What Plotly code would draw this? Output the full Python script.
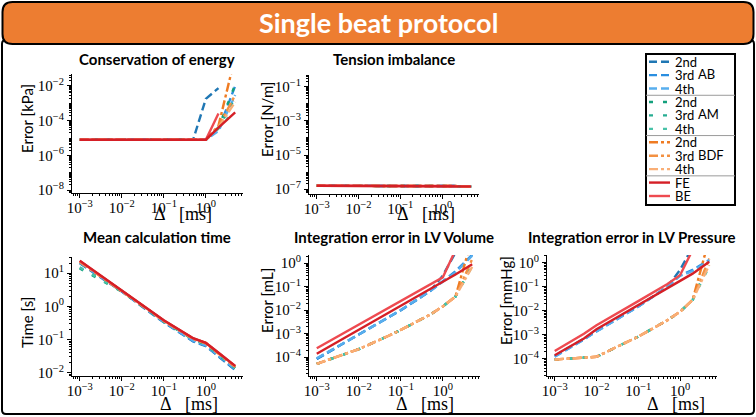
import math
import plotly.graph_objects as go

W, H = 756, 417

# ---------------- data ----------------
DT = [0.001, 0.005, 0.01, 0.05, 0.1, 0.5, 1, 2, 5]  # time step [ms]

# Conservation of energy [kPa]
E_AB2 = [8e-6, 8e-6, 8e-6, 8e-6, 8e-6, 8e-6, 1.8e-3, 7.5e-3, None]
E_AB3 = [8e-6, 8e-6, 8e-6, 8e-6, 8e-6, 8e-6, 8e-6, 3e-5, 1e-2]
E_AB4 = [8e-6, 8e-6, 8e-6, 8e-6, 8e-6, 8e-6, 8e-6, 2.5e-5, 3e-3]
E_AM2 = [8e-6, 8e-6, 8e-6, 8e-6, 8e-6, 8e-6, 8e-6, 4e-5, 1.2e-2]
E_AM3 = [8e-6, 8e-6, 8e-6, 8e-6, 8e-6, 8e-6, 8e-6, 4e-5, 2e-3]
E_AM4 = [8e-6, 8e-6, 8e-6, 8e-6, 8e-6, 8e-6, 8e-6, 3.5e-5, 4e-4]
E_BDF2 = [8e-6, 8e-6, 8e-6, 8e-6, 8e-6, 8e-6, 8e-6, 5e-5, 0.5]
E_BDF3 = [8e-6, 8e-6, 8e-6, 8e-6, 8e-6, 8e-6, 8e-6, 4.5e-5, 3e-3]
E_BDF4 = [8e-6, 8e-6, 8e-6, 8e-6, 8e-6, 8e-6, 8e-6, 4e-5, 1.2e-3]
E_FE = [8e-6, 8e-6, 8e-6, 8e-6, 8e-6, 8e-6, 8e-6, 4e-5, 3e-4]
E_BE = [8e-6, 8e-6, 8e-6, 8e-6, 8e-6, 8e-6, 8e-6, 2.6e-4, None]

# Tension imbalance [N/m]
T_AB2 = [1.55e-7, 1.55e-7, 1.55e-7, 1.55e-7, 1.55e-7, 1.55e-7, 1.54e-7, 1.5e-7, None]
T_AB3 = [1.55e-7, 1.55e-7, 1.55e-7, 1.55e-7, 1.55e-7, 1.55e-7, 1.54e-7, 1.5e-7, 1.4e-7]
T_AB4 = [1.55e-7, 1.55e-7, 1.55e-7, 1.55e-7, 1.55e-7, 1.55e-7, 1.54e-7, 1.5e-7, 1.4e-7]
T_AM2 = [1.55e-7, 1.55e-7, 1.55e-7, 1.55e-7, 1.55e-7, 1.55e-7, 1.54e-7, 1.5e-7, 1.4e-7]
T_AM3 = [1.55e-7, 1.55e-7, 1.55e-7, 1.55e-7, 1.55e-7, 1.55e-7, 1.54e-7, 1.5e-7, 1.4e-7]
T_AM4 = [1.55e-7, 1.55e-7, 1.55e-7, 1.55e-7, 1.55e-7, 1.55e-7, 1.54e-7, 1.5e-7, 1.4e-7]
T_BDF2 = [1.55e-7, 1.55e-7, 1.55e-7, 1.55e-7, 1.55e-7, 1.55e-7, 1.54e-7, 1.5e-7, 1.4e-7]
T_BDF3 = [1.55e-7, 1.55e-7, 1.55e-7, 1.55e-7, 1.55e-7, 1.55e-7, 1.54e-7, 1.5e-7, 1.4e-7]
T_BDF4 = [1.55e-7, 1.55e-7, 1.55e-7, 1.55e-7, 1.55e-7, 1.55e-7, 1.54e-7, 1.5e-7, 1.4e-7]
T_FE = [1.55e-7, 1.55e-7, 1.55e-7, 1.55e-7, 1.55e-7, 1.56e-7, 1.55e-7, 1.52e-7, 1.42e-7]
T_BE = [1.55e-7, 1.55e-7, 1.55e-7, 1.55e-7, 1.55e-7, 1.55e-7, 1.54e-7, 1.5e-7, None]

# Mean calculation time [s]
C_AB2 = [20, 5.0, 2.8, 0.62, 0.33, 0.088, 0.063, 0.031, 0.012]
C_AB3 = [21, 5.2, 2.85, 0.64, 0.34, 0.09, 0.065, 0.032, 0.0125]
C_AB4 = [21, 5.3, 2.9, 0.65, 0.345, 0.092, 0.067, 0.033, 0.013]
C_AM2 = [14, 4.6, 2.8, 0.66, 0.35, 0.1, 0.072, 0.035, 0.014]
C_AM3 = [14.5, 4.7, 2.85, 0.67, 0.355, 0.1, 0.073, 0.036, 0.014]
C_AM4 = [15, 4.8, 2.9, 0.68, 0.36, 0.102, 0.074, 0.036, 0.0145]
C_BDF2 = [22, 5.4, 2.9, 0.68, 0.36, 0.105, 0.077, 0.038, 0.015]
C_BDF3 = [22, 5.5, 2.95, 0.69, 0.365, 0.106, 0.078, 0.038, 0.015]
C_BDF4 = [23, 5.5, 2.95, 0.69, 0.37, 0.107, 0.078, 0.039, 0.0155]
C_FE = [24, 5.6, 3.0, 0.7, 0.38, 0.11, 0.08, 0.04, 0.016]
C_BE = [23.5, 5.55, 2.98, 0.7, 0.378, 0.109, 0.079, 0.04, 0.0158]

# Integration error in LV volume [mL]
V_AB2 = [8.5e-5, 4.4e-4, 9e-4, 4.8e-3, 0.01, 0.065, 0.3, 2.8, None]
V_AB3 = [8.5e-5, 4.4e-4, 9e-4, 4.8e-3, 0.01, 0.065, 0.17, 0.45, 2.3]
V_AB4 = [9e-5, 4.5e-4, 9.2e-4, 4.9e-3, 0.0102, 0.066, 0.16, 0.4, 2.1]
V_AM2 = [5.2e-5, 1.5e-4, 2.2e-4, 8e-4, 1.45e-3, 6.5e-3, 0.0145, 0.038, 0.8]
V_AM3 = [5.2e-5, 1.5e-4, 2.2e-4, 8e-4, 1.45e-3, 6.5e-3, 0.0145, 0.038, 0.9]
V_AM4 = [5.2e-5, 1.5e-4, 2.2e-4, 8e-4, 1.45e-3, 6.5e-3, 0.0145, 0.038, 0.75]
V_BDF2 = [5.2e-5, 1.5e-4, 2.2e-4, 8e-4, 1.45e-3, 6.5e-3, 0.0145, 0.038, 12]
V_BDF3 = [5.2e-5, 1.5e-4, 2.2e-4, 8e-4, 1.45e-3, 6.5e-3, 0.0145, 0.038, 1.5]
V_BDF4 = [5.2e-5, 1.5e-4, 2.2e-4, 8e-4, 1.45e-3, 6.5e-3, 0.0145, 0.038, 0.7]
V_FE = [1.4e-4, 7.1e-4, 1.47e-3, 7.5e-3, 0.0154, 0.079, 0.162, 0.33, 0.9]
V_BE = [2.4e-4, 1.2e-3, 2.4e-3, 0.012, 0.024, 0.12, 0.25, 3.6, None]

# Integration error in LV pressure [mmHg]
P_AB2 = [1.3e-4, 6.5e-4, 1.4e-3, 7.5e-3, 0.015, 0.1, 0.5, 4.5, None]
P_AB3 = [1.25e-4, 6.3e-4, 1.4e-3, 7.3e-3, 0.015, 0.1, 0.3, 0.5, 1.3]
P_AB4 = [1.2e-4, 6.2e-4, 1.35e-3, 7.2e-3, 0.0148, 0.1, 0.28, 0.45, 1.2]
P_AM2 = [9.3e-5, 1.1e-4, 1.2e-4, 4.7e-4, 8.3e-4, 4e-3, 9e-3, 0.028, 0.9]
P_AM3 = [9.3e-5, 1.1e-4, 1.2e-4, 4.7e-4, 8.3e-4, 4e-3, 9e-3, 0.028, 1.0]
P_AM4 = [9.3e-5, 1.1e-4, 1.2e-4, 4.7e-4, 8.3e-4, 4e-3, 9e-3, 0.028, 0.7]
P_BDF2 = [9.3e-5, 1.1e-4, 1.2e-4, 4.7e-4, 8.3e-4, 4e-3, 9e-3, 0.028, 10]
P_BDF3 = [9.3e-5, 1.1e-4, 1.2e-4, 4.7e-4, 8.3e-4, 4e-3, 9e-3, 0.028, 1.5]
P_BDF4 = [9.3e-5, 1.1e-4, 1.2e-4, 4.7e-4, 8.3e-4, 4e-3, 9e-3, 0.028, 0.8]
P_FE = [1.4e-4, 7e-4, 1.7e-3, 8.5e-3, 0.017, 0.085, 0.17, 0.35, 1.1]
P_BE = [2.1e-4, 1.1e-3, 2.5e-3, 0.012, 0.025, 0.13, 0.3, 3.4, None]

THRESHOLD = 0.1  # reference line in LV volume / pressure panels

METHODS = ["AB2", "AB3", "AB4", "AM2", "AM3", "AM4", "BDF2", "BDF3", "BDF4", "FE", "BE"]
LEGEND_LABELS = ["2nd", "3rd", "4th", "2nd", "3rd", "4th", "2nd", "3rd", "4th", "FE", "BE"]
GROUP_LABELS = ["AB", "AM", "BDF"]
DRAW_ORDER = [0, 1, 2, 3, 4, 5, 6, 7, 8, 10, 9]  # BE drawn below FE

PANEL_TITLES = ["Conservation of energy", "Tension imbalance", "Mean calculation time",
                "Integration error in LV Volume", "Integration error in LV Pressure"]
Y_TITLES = ["Error [kPa]", "Error [N/m]", "Time [s]", "Error [mL]", "Error [mmHg]"]
X_TITLE = "Δ\u00a0\u00a0\u00a0[ms]"
MAIN_TITLE = "Single beat protocol"

PANELS = [
    [E_AB2, E_AB3, E_AB4, E_AM2, E_AM3, E_AM4, E_BDF2, E_BDF3, E_BDF4, E_FE, E_BE],
    [T_AB2, T_AB3, T_AB4, T_AM2, T_AM3, T_AM4, T_BDF2, T_BDF3, T_BDF4, T_FE, T_BE],
    [C_AB2, C_AB3, C_AB4, C_AM2, C_AM3, C_AM4, C_BDF2, C_BDF3, C_BDF4, C_FE, C_BE],
    [V_AB2, V_AB3, V_AB4, V_AM2, V_AM3, V_AM4, V_BDF2, V_BDF3, V_BDF4, V_FE, V_BE],
    [P_AB2, P_AB3, P_AB4, P_AM2, P_AM3, P_AM4, P_BDF2, P_BDF3, P_BDF4, P_FE, P_BE],
]

X_TICKS = [1e-3, 1e-2, 1e-1, 1e0]
Y_TICKS = [
    [1e-8, 1e-6, 1e-4, 1e-2],
    [1e-7, 1e-5, 1e-3, 1e-1],
    [1e-2, 1e-1, 1e0, 1e1],
    [1e-4, 1e-3, 1e-2, 1e-1, 1e0],
    [1e-4, 1e-3, 1e-2, 1e-1, 1e0],
]

# ---------------- styles / layout ----------------
COLORS = {
    "AB2": "#1f77b4", "AB3": "#2a8ee0", "AB4": "#58aeee",
    "AM2": "#13a07c", "AM3": "#27ad92", "AM4": "#48c2a8",
    "BDF2": "#ef7b22", "BDF3": "#f39142", "BDF4": "#f9ae76",
    "FE": "#d51f26", "BE": "#ee4a50",
}
DASH_AB = "8px,4px"
DASH_AM = "4px,10px"
DASH_BDF = "9px,3px,3px,3px"
DASHES = {
    "AB2": DASH_AB, "AB3": DASH_AB, "AB4": DASH_AB,
    "AM2": DASH_AM, "AM3": DASH_AM, "AM4": DASH_AM,
    "BDF2": DASH_BDF, "BDF3": DASH_BDF, "BDF4": DASH_BDF,
    "FE": "solid", "BE": "solid",
}
LW = 2.4

# plot areas in pixels: (left, right, top, bottom)
BOXES = [
    (72, 243, 74, 193),
    (309, 479, 75, 194),
    (72, 243, 257, 376),
    (309, 480, 255, 376),
    (547, 717, 255, 376),
]
X_RANGE = [-3.185, 0.885]
Y_RANGES = [[-8.17, -1.31], [-7.29, -0.3], [-2.1, 1.49], [-4.8, 0.35], [-4.72, 0.32]]
TITLE_POS = [(157, 59), (394, 59), (157, 237), (394, 237), (632, 237)]
YTITLE_POS = [(27, 119), (267, 120), (27, 323), (267, 301), (506, 301)]
XTITLE_POS = [(152, 214), (395, 214), (158, 404), (394, 404), (645, 404)]

SANS = "Lato"
SERIF = "Liberation Serif"


def px(x):
    return x / W


def py(y):
    return 1 - y / H


def sup_label(v):
    e = int(round(math.log10(v)))
    s = str(e).replace("-", "\u2212")
    return f"10<sup>{s}</sup>"


fig = go.Figure()
layout = dict(
    width=W, height=H, margin=dict(l=0, r=0, t=0, b=0, autoexpand=False),
    paper_bgcolor="white", plot_bgcolor="white", showlegend=False,
)

minor_vals = []
for e in range(-10, 3):
    for m in range(2, 10):
        minor_vals.append(m * 10 ** e)

annotations = []
shapes = []


def rounded_rect(x0, y0, x1, y1, r):
    X = px
    Y = py
    return (f"M {X(x0 + r)},{Y(y0)} L {X(x1 - r)},{Y(y0)} Q {X(x1)},{Y(y0)} {X(x1)},{Y(y0 + r)} "
            f"L {X(x1)},{Y(y1 - r)} Q {X(x1)},{Y(y1)} {X(x1 - r)},{Y(y1)} "
            f"L {X(x0 + r)},{Y(y1)} Q {X(x0)},{Y(y1)} {X(x0)},{Y(y1 - r)} "
            f"L {X(x0)},{Y(y0 + r)} Q {X(x0)},{Y(y0)} {X(x0 + r)},{Y(y0)} Z")


shapes.append(dict(type="path", xref="paper", yref="paper", layer="below",
                   path=rounded_rect(2, 40, 754, 414, 4),
                   fillcolor="white", line=dict(color="black", width=2)))
shapes.append(dict(type="path", xref="paper", yref="paper", layer="above",
                   path=rounded_rect(2.5, 2, 753.5, 44, 10),
                   fillcolor="#ED7D31", line=dict(color="black", width=2)))
annotations.append(dict(x=px(378), y=py(23), xref="paper", yref="paper", showarrow=False,
                        text=f"<b>{MAIN_TITLE}</b>", xanchor="center", yanchor="middle",
                        font=dict(family=SANS, size=27, color="white")))

for i, data in enumerate(PANELS):
    k = "" if i == 0 else str(i + 1)
    l, r, t, b = BOXES[i]
    common = dict(type="log", automargin=False,
                  showline=True, linecolor="black", linewidth=1, mirror=False,
                  showgrid=False, zeroline=False, ticks="outside", ticklen=4, tickwidth=1,
                  tickcolor="black", tickmode="array",
                  tickfont=dict(family=SERIF, size=15, color="black"),
                  minor=dict(ticks="outside", ticklen=2, tickcolor="black", tickmode="array",
                             tickvals=minor_vals))
    xa = dict(common, domain=[px(l), px(r)], range=X_RANGE, anchor="y" + k,
              tickvals=X_TICKS, ticktext=[sup_label(v) for v in X_TICKS],
              ticklabelstandoff=-3)
    ya = dict(common, domain=[py(b), py(t)], range=Y_RANGES[i], anchor="x" + k,
              tickvals=Y_TICKS[i], ticktext=[sup_label(v) for v in Y_TICKS[i]])
    if i == 0 or i == 1:
        ya["minor"] = dict(ticks="outside", ticklen=2, tickcolor="black", tickmode="array",
                           tickvals=minor_vals + [10 ** e for e in range(-10, 3)
                                                  if 10 ** e not in Y_TICKS[i]])
    layout["xaxis" + k] = xa
    layout["yaxis" + k] = ya

    for j in DRAW_ORDER:
        m = METHODS[j]
        fig.add_trace(go.Scatter(x=DT, y=data[j], mode="lines", name=m,
                                 xaxis="x" + k, yaxis="y" + k, connectgaps=False,
                                 line=dict(color=COLORS[m], width=LW, dash=DASHES[m])))

    if i in (3, 4):
        shapes.append(dict(type="line", xref=f"x{k} domain", yref="y" + k,
                           x0=0, x1=1, y0=math.log10(THRESHOLD), y1=math.log10(THRESHOLD),
                           line=dict(color="#7f7f7f", width=1.5), layer="below"))

    tx, ty = TITLE_POS[i]
    annotations.append(dict(x=px(tx), y=py(ty), xref="paper", yref="paper", showarrow=False,
                            text=f"<b>{PANEL_TITLES[i]}</b>", xanchor="center", yanchor="middle",
                            font=dict(family=SANS, size=15, color="black")))
    yx, yy = YTITLE_POS[i]
    annotations.append(dict(x=px(yx), y=py(yy), xref="paper", yref="paper", showarrow=False,
                            text=Y_TITLES[i], textangle=-90, xanchor="center", yanchor="middle",
                            font=dict(family=SANS, size=15, color="black")))
    xx, xy = XTITLE_POS[i]
    annotations.append(dict(x=px(xx), y=py(xy), xref="paper", yref="paper", showarrow=False,
                            text=X_TITLE, xanchor="left", yanchor="middle",
                            font=dict(family=SERIF, size=18, color="black")))

# ---------------- custom legend ----------------
LEG_L, LEG_R, LEG_T, LEG_B = 646, 735, 54, 205
ROW0, ROW_STEP = 61.7, 13.43
SW0, SW1, TXT_X, GRP_X = 649, 670, 673, 696

shapes.append(dict(type="rect", xref="paper", yref="paper", x0=px(LEG_L), x1=px(LEG_R),
                   y0=py(LEG_B), y1=py(LEG_T), line=dict(color="black", width=2),
                   fillcolor="white", layer="above"))
for j, m in enumerate(METHODS):
    yr = ROW0 + j * ROW_STEP
    shapes.append(dict(type="line", xref="paper", yref="paper", x0=px(SW0), x1=px(SW1),
                       y0=py(yr), y1=py(yr), layer="above",
                       line=dict(color=COLORS[m], width=LW, dash=DASHES[m])))
    annotations.append(dict(x=px(TXT_X), y=py(yr), xref="paper", yref="paper", showarrow=False,
                            text=LEGEND_LABELS[j], xanchor="left", yanchor="middle",
                            font=dict(family=SANS, size=13, color="black")))
for g, lab in enumerate(GROUP_LABELS):
    yr = ROW0 + (3 * g + 1) * ROW_STEP
    annotations.append(dict(x=px(GRP_X), y=py(yr - 1), xref="paper", yref="paper", showarrow=False,
                            text=lab, xanchor="left", yanchor="middle",
                            font=dict(family=SANS, size=13, color="black")))
    ysep = ROW0 + (3 * g + 2.5) * ROW_STEP
    shapes.append(dict(type="line", xref="paper", yref="paper", x0=px(LEG_L), x1=px(LEG_R),
                       y0=py(ysep), y1=py(ysep), layer="above",
                       line=dict(color="#9a9a9a", width=1)))

layout["shapes"] = shapes
layout["annotations"] = annotations
fig.update_layout(**layout)
fig.write_html("out.html", config={"displayModeBar": False},
               post_script="document.body.style.margin='0px';document.body.style.overflow='hidden';")
